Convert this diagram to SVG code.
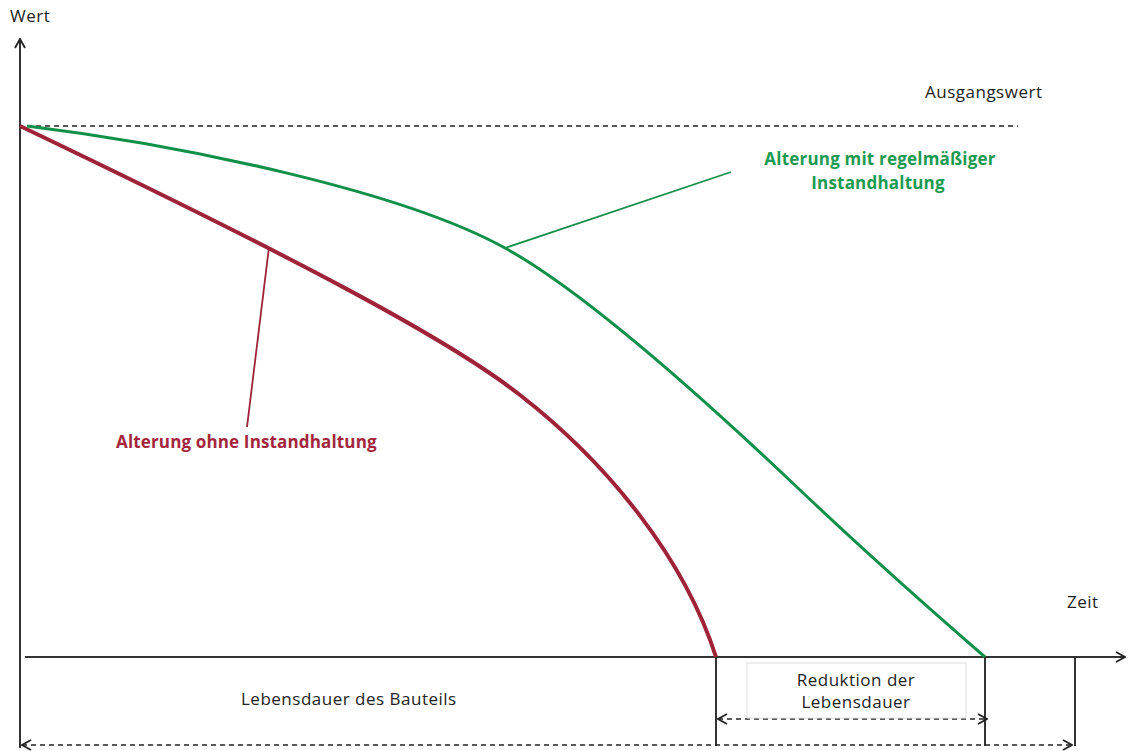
<svg xmlns="http://www.w3.org/2000/svg" width="1129" height="751" viewBox="0 0 1129 751">
<defs>
<style>
.ax{stroke:#333;stroke-width:2;fill:none}
.dash{stroke:#222;stroke-width:1.5;fill:none;stroke-dasharray:5 4}
.t{font-family:"Open Sans","Noto Sans",sans-serif;font-size:17px;letter-spacing:0.5px;fill:#222}
.red{stroke:#9e2338;fill:none}
.grn{stroke:#12904a;fill:none}
.tr{font-family:"Open Sans","Noto Sans",sans-serif;font-size:17px;letter-spacing:0.15px;font-weight:bold;fill:#a3263d}
.tg{font-family:"Open Sans","Noto Sans",sans-serif;font-size:17px;letter-spacing:0.2px;font-weight:bold;fill:#1c9a52}
</style>
<marker id="ah" viewBox="0 0 12 12" refX="11" refY="6" markerWidth="12" markerHeight="12" markerUnits="userSpaceOnUse" orient="auto-start-reverse">
<path d="M2,1 L11,6 L2,11" fill="none" stroke="#222" stroke-width="1.8"/>
</marker>
</defs>
<rect width="1129" height="751" fill="#fff"/>
<g id="axes">
<line class="ax" x1="20" y1="748" x2="20" y2="39" marker-end="url(#ah)"/>
<line class="ax" x1="25" y1="657" x2="1125" y2="657" marker-end="url(#ah)"/>
<text class="t" x="10" y="22">Wert</text>
<text class="t" x="1067" y="608">Zeit</text>
</g>
<g id="ausgangswert">
<line class="dash" x1="27" y1="126" x2="1018" y2="126"/>
<text class="t" x="925" y="98">Ausgangswert</text>
</g>
<g id="ohne">
<path class="red" stroke-width="4" d="M20,126 C300,260 450,340 520,395 C610,465 685,560 716,657"/>
<line class="red" stroke-width="1.8" x1="269" y1="247" x2="247" y2="427"/>
<text class="tr" x="116" y="448">Alterung ohne Instandhaltung</text>
</g>
<g id="mit">
<path class="grn" stroke-width="3" d="M27,126 C180,145 400,190 505,248 C589,294 720,414 800,490 C860,547 925,605 985,657"/>
<line class="grn" stroke-width="1.8" x1="505" y1="248" x2="731" y2="172"/>
<text class="tg" text-anchor="middle" x="880" y="165">Alterung mit regelmäßiger</text>
<text class="tg" text-anchor="middle" x="878" y="189">Instandhaltung</text>
</g>
<g id="connectors">
<line class="ax" x1="716" y1="657" x2="716" y2="746"/>
<line class="ax" x1="985" y1="657" x2="985" y2="746"/>
<line class="ax" x1="1075" y1="657" x2="1075" y2="746"/>
<line class="dash" x1="22" y1="745" x2="1072" y2="745" marker-start="url(#ah)" marker-end="url(#ah)"/>
<line class="dash" x1="718" y1="719" x2="987" y2="719" marker-start="url(#ah)" marker-end="url(#ah)"/>
</g>
<g id="lebensdauer">
<text class="t" x="241" y="705">Lebensdauer des Bauteils</text>
</g>
<g id="reduktion">
<rect x="747" y="663" width="219" height="55" fill="none" stroke="#ddd" stroke-width="1"/>
<text class="t" text-anchor="middle" x="856" y="686">Reduktion der</text>
<text class="t" text-anchor="middle" x="856" y="708">Lebensdauer</text>
</g>
</svg>
